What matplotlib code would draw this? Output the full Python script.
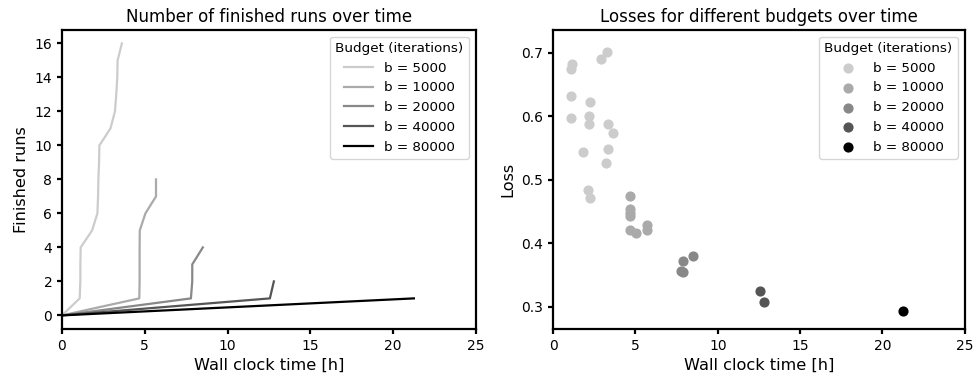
import matplotlib
matplotlib.use("Agg")
import matplotlib.pyplot as plt
import numpy as np

# Budgets and their grey levels
budgets = [5000, 10000, 20000, 40000, 80000]
colors = ["#cccccc", "#aaaaaa", "#888888", "#555555", "#000000"]

# Finish time [h] and final loss of each run, per budget
times = {
    5000: [1.13, 1.07, 3.28, 2.93, 1.11, 2.24, 1.11, 2.18, 2.20, 3.36, 3.62, 1.82, 3.34, 3.20, 2.14, 2.26],
    10000: [4.67, 4.69, 4.70, 4.69, 4.69, 5.04, 5.68, 5.68],
    20000: [8.51, 7.87, 7.79, 7.87],
    40000: [12.56, 12.80],
    80000: [21.26],
}
losses = {
    5000: [0.682, 0.675, 0.701, 0.690, 0.632, 0.622, 0.597, 0.601, 0.587, 0.588, 0.574, 0.544, 0.549, 0.527, 0.484, 0.471],
    10000: [0.475, 0.454, 0.448, 0.443, 0.421, 0.416, 0.428, 0.421],
    20000: [0.380, 0.372, 0.357, 0.354],
    40000: [0.325, 0.308],
    80000: [0.294],
}

plt.rcParams["font.size"] = 10
plt.rcParams["axes.linewidth"] = 1.6
plt.rcParams["xtick.major.width"] = 1.6
plt.rcParams["ytick.major.width"] = 1.6
plt.rcParams["legend.fontsize"] = 9.7
plt.rcParams["legend.title_fontsize"] = 9.7

fig = plt.figure(figsize=(9.76, 3.73), dpi=100)
ax1 = fig.add_axes([0.0635, 0.118, 0.424, 0.802])
ax2 = fig.add_axes([0.5666, 0.118, 0.422, 0.802])

# a. finished runs over time
for b, c in zip(budgets, colors):
    t = np.concatenate([[0], np.sort(times[b])])
    n = np.arange(len(t))
    ax1.plot(t, n, color=c, lw=1.6, label="b = %d" % b)
ax1.set_xlim(0, 25)
ax1.set_title("Number of finished runs over time", fontsize=12)
ax1.set_xlabel("Wall clock time [h]", fontsize=11.6)
ax1.set_ylabel("Finished runs", fontsize=11.6)
ax1.set_yticks(range(0, 17, 2))
ax1.legend(title="Budget (iterations)", loc="upper right", handlelength=2.2)

# b. losses over time
for b, c in zip(budgets, colors):
    ax2.scatter(times[b], losses[b], color=c, s=40, label="b = %d" % b)
ax2.set_xlim(0, 25)
ax2.set_ylim(0.265, 0.736)
ax2.set_title("Losses for different budgets over time", fontsize=12)
ax2.set_xlabel("Wall clock time [h]", fontsize=11.6)
ax2.set_ylabel("Loss", fontsize=11.6)
ax2.legend(title="Budget (iterations)", loc="upper right", handlelength=2.2)

fig.savefig("out.png", dpi=100)
